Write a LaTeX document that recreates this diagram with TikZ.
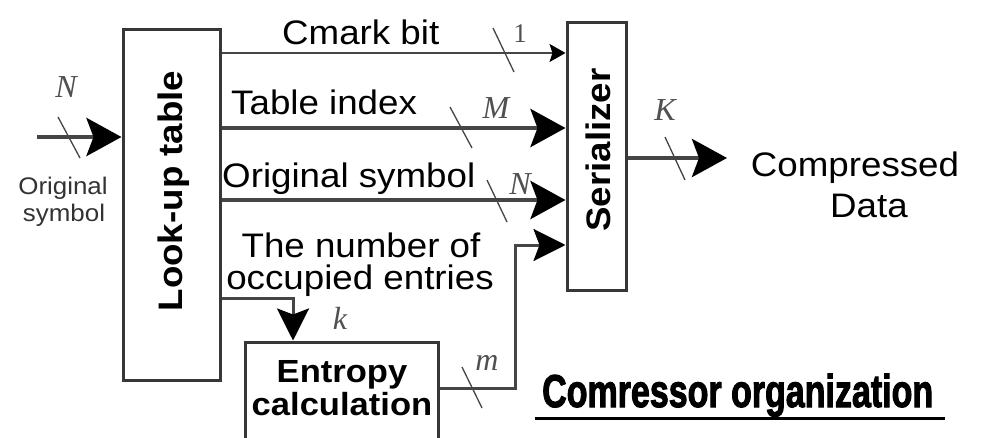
\documentclass[tikz,border=0pt]{standalone}
\usepackage{fontspec}
\setmainfont{Liberation Sans}[FakeStretch=1.08]
\newfontfamily\lblfont{Liberation Serif}
\newfontfamily\titlefont{Liberation Sans}[BoldFeatures={FakeBold=2.5}]
\usetikzlibrary{arrows.meta}
\definecolor{ln}{HTML}{454545}
\definecolor{lbl}{HTML}{505050}
\tikzset{
  box/.style={draw=ln!80!black, line width=3pt, inner sep=0pt, fill=white},
  bigarrow/.style={draw=ln, line width=4.5pt, -{Stealth[length=35pt,width=38pt,inset=7pt,color=black]}},
  midarrow/.style={draw=ln, line width=3pt, -{Stealth[length=32pt,width=32pt,inset=6pt,color=black]}},
  thinarrow/.style={draw=ln, line width=2pt, -{Stealth[length=16pt,width=18pt,inset=3pt,color=black]}},
  tick/.style={draw=ln, line width=1.3pt},
  sig/.style={font=\fontsize{34}{36}\selectfont, inner sep=0pt},
  small/.style={font=\fontsize{24}{27}\selectfont, text=black!80, inner sep=0pt, anchor=base},
  var/.style={font=\fontsize{32}{34}\lblfont\itshape, text=lbl, inner sep=0pt},
  boxtext/.style={font=\fontsize{34}{36}\selectfont\bfseries, inner sep=0pt},
  enttext/.style={font=\fontsize{32}{34}\selectfont\bfseries, inner sep=0pt, anchor=base},
}
\begin{document}
\begin{tikzpicture}[x=1pt,y=-1pt]
\useasboundingbox (0,0) rectangle (1008,438);
\fill[white] (0,0) rectangle (1008,438);
\clip (0,0) rectangle (1008,438);

% blocks
\node[box, minimum width=97pt, minimum height=350pt] (lut) at (171.5,205) {};
\node[boxtext, rotate=90, anchor=base] (luttxt) at (182,191) {Look-up table};
\node[box, minimum width=59pt, minimum height=267pt] (ser) at (596.5,156.5) {};
\node[boxtext, rotate=90, anchor=base] (sertxt) at (610,150) {Serializer};
\node[box, minimum width=193pt, minimum height=120pt] (ent) at (341.5,402) {};
\node[enttext] (ent1) at (342,382) {Entropy};
\node[enttext] (ent2) at (342,415) {calculation};

% input
\coordinate (in) at (37,137);
\draw[bigarrow] (in) -- (in -| lut.west);
\draw[tick] (58,117) -- (80,158);
\node[var] (vN1) at (66,87) {N};
\node[small] (ins1) at (63,195) {Original};
\node[small] (ins2) at (64,222) {symbol};

% Cmark bit
\draw[thinarrow] (lut.east |- 0,53) -- (ser.west |- 0,53);
\node[sig, anchor=base west] (cmark) at (282,45) {Cmark bit};
\draw[tick] (493,28) -- (514,72);
\node[font=\fontsize{27}{29}\lblfont, text=lbl, inner sep=0pt] (v1) at (520,34) {1};

% Table index
\draw[bigarrow] (lut.east |- 0,128) -- (ser.west |- 0,128);
\node[sig, anchor=base west] (tindex) at (231,115) {Table index};
\draw[tick] (450,107) -- (472,148);
\node[var] (vM) at (496,108) {M};

% Original symbol
\draw[bigarrow] (lut.east |- 0,200) -- (ser.west |- 0,200);
\node[sig, anchor=base west] (osym) at (222,188) {Original symbol};
\draw[tick] (487,180) -- (507,222);
\node[var] (vN2) at (520,184) {N};

% number of occupied entries -> entropy
\node[sig, anchor=base] (occ1) at (361,257) {The number of};
\node[sig, anchor=base] (occ2) at (360,289) {occupied entries};
\coordinate (kc) at (293,298);
\draw[midarrow] (lut.east |- kc) -| (kc |- ent.north);
\node[var] (vk) at (340,318) {k};

% entropy -> serializer
\coordinate (mc) at (515,388);
\coordinate (mt) at (515,245);
\draw[midarrow] (ent.east |- mc) -- (mc) -- (mt) -- (ser.west |- mt);
\draw[tick] (462,367) -- (482,408);
\node[var] (vm) at (487,363) {m};

% output
\coordinate (out) at (727,158);
\draw[bigarrow] (ser.east |- out) -- (out);
\draw[tick] (665,137) -- (685,180);
\node[var] (vK) at (665,110) {K};
\node[sig, anchor=base] (cd1) at (855,177) {Compressed};
\node[sig, anchor=base] (cd2) at (869,218) {Data};

% title
\node[inner sep=0pt, anchor=base west, font=\fontsize{46}{48}\titlefont\bfseries] (title) at (542,407)
  {\resizebox{391pt}{\height}{Comressor organization}};
\draw[line width=3pt, black] (535,418) -- (945,418);
\end{tikzpicture}
\end{document}
